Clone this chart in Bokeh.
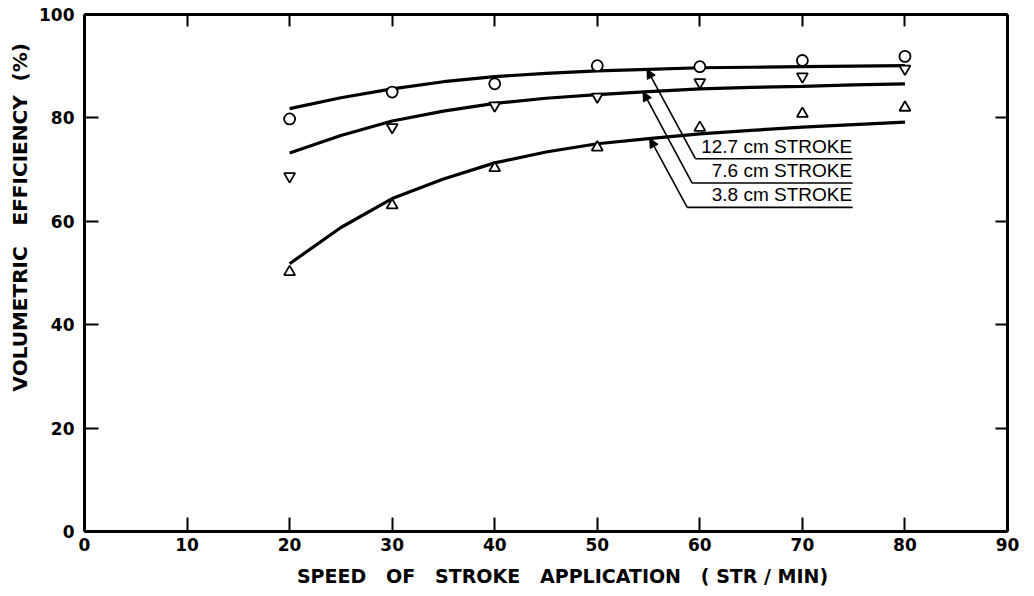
import numpy as np
from bokeh.plotting import figure
from bokeh.models import Range1d, LinearAxis, FixedTicker, Arrow, NormalHead
from bokeh.core.properties import value
from bokeh.embed import file_html
from bokeh.resources import INLINE

# ---------------- data ----------------
speed = [20, 30, 40, 50, 60, 70, 80]
eff_127 = [79.8, 85.0, 86.6, 90.1, 89.9, 91.1, 91.9]   # circles, 12.7 cm stroke
eff_76 = [68.7, 78.2, 82.4, 84.1, 86.9, 88.0, 89.5]    # down triangles, 7.6 cm stroke
eff_38 = [50.2, 63.1, 70.3, 74.3, 78.1, 80.8, 82.0]    # up triangles, 3.8 cm stroke

curve_x = [20, 25, 30, 35, 40, 45, 50, 55, 60, 65, 70, 75, 80]
curve_127 = [81.8, 83.9, 85.6, 87.0, 88.0, 88.6, 89.1, 89.4, 89.7, 89.8, 89.9, 90.0, 90.1]
curve_76 = [73.2, 76.6, 79.4, 81.3, 82.8, 83.8, 84.5, 85.1, 85.6, 85.9, 86.1, 86.4, 86.6]
curve_38 = [51.8, 58.8, 64.4, 68.2, 71.3, 73.4, 75.0, 76.0, 76.9, 77.6, 78.2, 78.7, 79.2]

series_labels = ["12.7 cm STROKE", "7.6 cm STROKE", "3.8 cm STROKE"]
x_ticks = [0, 10, 20, 30, 40, 50, 60, 70, 80, 90]
y_ticks = [0, 20, 40, 60, 80, 100]

NB = "\u00a0"
x_title = (NB * 5 + "SPEED" + NB * 3 + "OF" + NB * 3 + "STROKE" + NB * 3 + "APPLICATION"
           + NB * 3 + "(" + NB + "STR" + NB + "/" + NB + "MIN)")
y_title = NB * 16 + "VOLUMETRIC" + NB * 3 + "EFFICIENCY" + NB * 2 + "(%)"

# ---------------- figure ----------------
p = figure(width=1026, height=593, output_backend="svg", toolbar_location=None,
           x_range=Range1d(0, 90), y_range=Range1d(0, 100),
           x_axis_location=None, y_axis_location=None)
p.min_border_left = 84
p.min_border_right = 19
p.min_border_top = 14
p.min_border_bottom = 62
p.outline_line_color = None
p.grid.visible = False
p.background_fill_color = "white"
p.border_fill_color = "white"


def make_axis(ticks, show_labels):
    ax = LinearAxis(ticker=FixedTicker(ticks=ticks))
    ax.axis_line_width = 3
    ax.axis_line_color = "black"
    ax.major_tick_in = 14
    ax.major_tick_out = 0
    ax.major_tick_line_width = 2
    ax.minor_tick_line_color = None
    ax.major_label_text_font = "DejaVu Sans"
    ax.major_label_text_font_style = "bold"
    ax.major_label_text_font_size = "17px"
    ax.major_label_text_color = "black"
    ax.axis_label_text_font = "DejaVu Sans"
    ax.axis_label_text_font_style = "bold"
    ax.axis_label_text_color = "black"
    if not show_labels:
        ax.major_label_overrides = {t: "" for t in ticks}
        ax.major_label_standoff = 0
    return ax


xb = make_axis(x_ticks, True)
xb.major_label_standoff = 6
xb.axis_label = x_title
xb.axis_label_text_font_size = "19px"
xb.axis_label_standoff = 11
p.add_layout(xb, "below")

yl = make_axis(y_ticks, True)
yl.major_label_standoff = 10
yl.axis_label = y_title
yl.axis_label_text_font_size = "20px"
yl.axis_label_standoff = 4
p.add_layout(yl, "left")

xt = make_axis(x_ticks, False)
xt.major_tick_in = 12
p.add_layout(xt, "above")
yr = make_axis(y_ticks, False)
yr.major_tick_in = 12
p.add_layout(yr, "right")

# ---------------- curves ----------------
for cy in (curve_127, curve_76, curve_38):
    p.line(curve_x, cy, line_color="black", line_width=3.2)

# ---------------- markers ----------------
p.scatter(speed, eff_127, marker="circle", size=11, fill_color="white",
          line_color="black", line_width=1.8)
p.scatter(speed, eff_76, marker="inverted_triangle", size=11, fill_color="white",
          line_color="black", line_width=1.8)
p.scatter(speed, eff_38, marker="triangle", size=11, fill_color="white",
          line_color="black", line_width=1.8)

# ---------------- leader annotations ----------------
tip_x = [54.85, 54.47, 55.12]
elbow = [(59.57, 72.1), (59.25, 67.4), (58.77, 62.7)]
end_x = 74.9
curves = [curve_127, curve_76, curve_38]
for lbl, tx, (ex, ey), cy in zip(series_labels, tip_x, elbow, curves):
    ty = float(np.interp(tx, curve_x, cy))
    p.add_layout(Arrow(end=NormalHead(size=9, fill_color="black", line_color="black",
                                      line_width=1),
                       x_start=ex, y_start=ey, x_end=tx, y_end=ty,
                       line_color="black", line_width=1.6))
    p.segment(x0=[ex], y0=[ey], x1=[end_x], y1=[ey], line_color="black", line_width=1.6)
    p.text(x=[end_x - 0.05], y=[ey + 0.4], text=[lbl], text_align="right",
           text_baseline="bottom", text_color="black", text_font_size="19px",
           text_font=value("Liberation Sans"))

open("out.html", "w").write(file_html(p, INLINE))
